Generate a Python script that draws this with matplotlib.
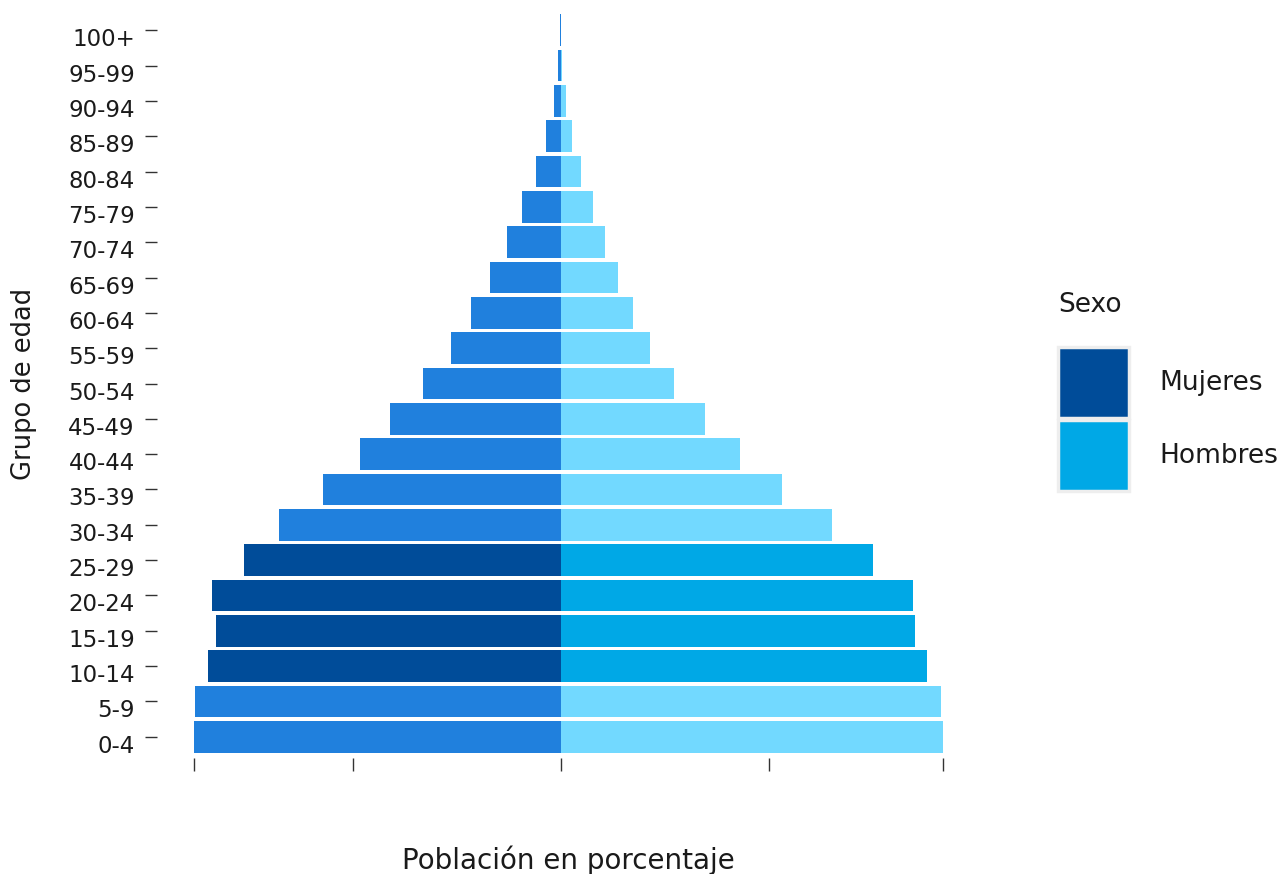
import matplotlib.pyplot as plt
import matplotlib.transforms as mtransforms
from matplotlib.patches import Patch
import numpy as np

plt.rcParams["font.family"] = ["DejaVu Sans"]

# =========================
# 数据（占总人口的百分比）
# =========================
grupos = ["0-4", "5-9", "10-14", "15-19", "20-24", "25-29", "30-34", "35-39",
          "40-44", "45-49", "50-54", "55-59", "60-64", "65-69", "70-74",
          "75-79", "80-84", "85-89", "90-94", "95-99", "100+"]
mujeres = [5.29, 5.28, 5.09, 4.98, 5.03, 4.57, 4.07, 3.43, 2.90, 2.47, 1.99,
           1.59, 1.30, 1.02, 0.78, 0.56, 0.36, 0.22, 0.10, 0.04, 0.015]
hombres = [5.51, 5.48, 5.28, 5.11, 5.08, 4.50, 3.91, 3.19, 2.58, 2.08, 1.64,
           1.28, 1.04, 0.82, 0.63, 0.46, 0.29, 0.16, 0.07, 0.012, 0.003]
destacados = ["10-14", "15-19", "20-24", "25-29"]

# 颜色
col_m_dest = "#004C99"
col_m = "#2080DD"
col_h_dest = "#00A8E6"
col_h = "#72D9FF"
col_txt = "#1a1a1a"

y = np.arange(len(grupos))
col_muj = [col_m_dest if g in destacados else col_m for g in grupos]
col_hom = [col_h_dest if g in destacados else col_h for g in grupos]

fig = plt.figure(figsize=(12.81, 8.74), dpi=100)
ax = fig.add_axes([157 / 1281, 116 / 874, 823 / 1281, 749 / 874])

ax.barh(y, -np.array(mujeres), height=0.9, color=col_muj, linewidth=0)
ax.barh(y, hombres, height=0.9, color=col_hom, linewidth=0)

# 坐标范围（ggplot 风格的 5% 扩展）
xmin, xmax = -max(mujeres), max(hombres)
span = xmax - xmin
ax.set_xlim(xmin - 0.05 * span, xmax + 0.05 * span)
ax.set_ylim(-0.6, len(grupos) - 0.4)

ax.set_xticks([xmin, -3, 0, 3, xmax])
ax.set_xticklabels([])
ax.set_yticks(y)
ax.set_yticklabels(grupos, fontsize=16.5)

ax.tick_params(axis="x", length=9, width=1, color="#333333")
ax.tick_params(axis="y", length=9, width=1, color="#333333", pad=7,
               labelcolor=col_txt)

# 标签略向下偏移
offset = mtransforms.ScaledTranslation(0, -7 / 100, fig.dpi_scale_trans)
for lab in ax.get_yticklabels():
    lab.set_transform(lab.get_transform() + offset)

for s in ax.spines.values():
    s.set_visible(False)

ax.set_xlabel("Población en porcentaje", fontsize=20, color=col_txt)
ax.xaxis.set_label_coords(0.5, (14 - 116) / 749)
ax.xaxis.label.set_va("center")
ax.set_ylabel("Grupo de edad", fontsize=18.5, color=col_txt)
ax.yaxis.set_label_coords((24 - 157) / 823, 0.5)
ax.yaxis.label.set_va("center")

# 图例
fig.text(1058 / 1281, 1 - 305 / 874, "Sexo", fontsize=19, color=col_txt,
         ha="left", va="center")
handles = [Patch(facecolor=col_m_dest, edgecolor="#EEEEEE", linewidth=2.5),
           Patch(facecolor=col_h_dest, edgecolor="#EEEEEE", linewidth=2.5)]
leg = fig.legend(handles, ["Mujeres", "Hombres"],
                 loc="upper left", bbox_to_anchor=(1058 / 1281, 1 - 347 / 874),
                 frameon=False, fontsize=19,
                 handlelength=2.7, handleheight=3.75, labelspacing=0.1,
                 handletextpad=1.15, borderaxespad=0, borderpad=0)
for t in leg.get_texts():
    t.set_color(col_txt)

fig.savefig("out.png", dpi=100)
